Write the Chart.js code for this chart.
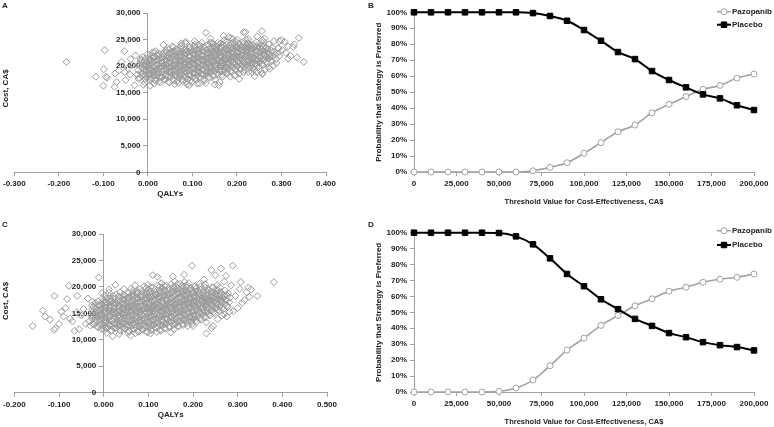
<!DOCTYPE html>
<html><head><meta charset="utf-8">
<script src="https://cdn.jsdelivr.net/npm/chart.js@4.4.1/dist/chart.umd.min.js"></script>
<style>
html,body{margin:0;padding:0;background:#fff;width:774px;height:427px;overflow:hidden}
canvas{position:absolute}
</style></head><body>
<canvas id="cA" width="360" height="212" style="left:0;top:0"></canvas>
<canvas id="cB" width="414" height="212" style="left:360px;top:0"></canvas>
<canvas id="cC" width="360" height="215" style="left:0;top:212px"></canvas>
<canvas id="cD" width="414" height="215" style="left:360px;top:212px"></canvas>
<script>
// ---------- DATA ----------
// Panel A: incremental QALYs vs incremental cost (CA$)
const scatterA = [
[-0.022,19200],[-0.018,20400],[-0.024,18400],[-0.016,21300],[-0.02,17800],[-0.013,19800],
[-0.011,18600],[-0.008,20900],[-0.012,21700],[-0.006,17600],[-0.009,19500],[-0.004,20200],[-0.007,16900],
[0.002,18100],[0.001,19900],[0.004,21400],[-0.001,22200],[0.003,17300],[0.005,20600],[0.000,18900],
[0.008,17700],[0.011,18700],[0.012,19600],[0.009,20800],[0.013,21800],[0.010,22600],[0.014,16700],[0.007,19200],
[0.018,17200],[0.021,18300],[0.019,19300],[0.022,20200],[0.02,21100],[0.024,22000],[0.017,22800],[0.023,18800],
[0.028,16900],[0.031,17800],[0.033,18900],[0.029,19800],[0.032,20500],[0.030,21500],[0.034,22300],[0.027,20000],[0.035,24000],
[0.038,17400],[0.041,18300],[0.043,19400],[0.039,20300],[0.042,21000],[0.044,21900],[0.040,22900],[0.045,19000],
[0.048,16900],[0.051,17900],[0.053,18700],[0.049,19700],[0.052,20600],[0.050,21400],[0.054,22300],[0.047,23100],[0.055,20100],
[0.058,17300],[0.061,18200],[0.063,19100],[0.059,20200],[0.062,21000],[0.060,21800],[0.064,22700],[0.057,23500],[0.065,19600],
[0.068,16800],[0.071,17700],[0.073,18600],[0.069,19500],[0.072,20400],[0.070,21200],[0.074,22100],[0.067,22900],[0.075,23900],[0.071,20000],
[0.078,17200],[0.081,18100],[0.083,19000],[0.079,19900],[0.082,20800],[0.080,21600],[0.084,22500],[0.077,23300],[0.085,24300],[0.080,20300],
[0.088,16500],[0.091,17600],[0.093,18500],[0.089,19400],[0.092,20300],[0.090,21100],[0.094,22000],[0.087,22800],[0.095,23700],[0.091,20700],
[0.098,17000],[0.101,17900],[0.103,18800],[0.099,19700],[0.102,20600],[0.100,21400],[0.104,22300],[0.097,23100],[0.105,24000],[0.101,21000],
[0.108,17400],[0.111,18300],[0.113,19200],[0.109,20100],[0.112,21000],[0.110,21800],[0.114,22700],[0.107,23500],[0.115,19600],[0.111,16700],
[0.118,17700],[0.121,18600],[0.123,19500],[0.119,20400],[0.122,21300],[0.120,22100],[0.124,23000],[0.117,23800],[0.125,20800],[0.121,24400],
[0.128,17300],[0.131,18200],[0.133,19100],[0.129,20000],[0.132,20900],[0.130,21700],[0.134,22600],[0.127,23400],[0.135,24100],[0.131,21300],
[0.138,17800],[0.141,18700],[0.143,19600],[0.139,20500],[0.142,21400],[0.140,22200],[0.144,23100],[0.137,23900],[0.145,20900],[0.141,24500],
[0.148,18100],[0.151,19000],[0.153,19900],[0.149,20800],[0.152,21700],[0.150,22500],[0.154,23400],[0.147,24200],[0.155,21200],[0.151,17400],
[0.158,18400],[0.161,19300],[0.163,20200],[0.159,21100],[0.162,22000],[0.160,22800],[0.164,23700],[0.157,24400],[0.165,20600],[0.161,17000],
[0.168,18000],[0.171,18900],[0.173,19800],[0.169,20700],[0.172,21600],[0.170,22400],[0.174,23300],[0.167,24100],[0.175,21000],[0.171,24800],
[0.178,18600],[0.181,19500],[0.183,20400],[0.179,21300],[0.182,22200],[0.180,23000],[0.184,23900],[0.177,24600],[0.185,20900],[0.186,25300],
[0.188,18900],[0.191,19800],[0.193,20700],[0.189,21600],[0.192,22500],[0.190,23300],[0.194,24200],[0.187,21100],[0.195,18200],[0.191,25100],
[0.198,19100],[0.201,20000],[0.203,20900],[0.199,21800],[0.202,22700],[0.200,23500],[0.204,24300],[0.197,21400],[0.205,18600],[0.201,25000],
[0.208,19400],[0.211,20300],[0.213,21200],[0.209,22100],[0.212,23000],[0.210,23800],[0.214,24600],[0.207,21700],[0.215,18800],
[0.218,19200],[0.221,20100],[0.223,21000],[0.219,21900],[0.222,22800],[0.220,23600],[0.224,24400],[0.217,20600],[0.225,25100],
[0.228,19600],[0.231,20500],[0.233,21400],[0.229,22300],[0.232,23200],[0.230,24000],[0.234,18900],[0.227,22700],
[0.238,19300],[0.241,20200],[0.243,21100],[0.239,22000],[0.242,22900],[0.240,23700],[0.244,24500],[0.237,21500],
[0.248,19800],[0.251,20700],[0.253,21600],[0.249,22500],[0.252,23400],[0.250,24200],[0.254,19000],[0.247,21200],
[0.258,20200],[0.261,21100],[0.263,22000],[0.259,22900],[0.262,23800],[0.260,24600],[0.264,19400],[0.257,18500],
[0.268,20500],[0.271,21400],[0.273,22300],[0.269,23200],[0.272,24100],[0.270,19800],[0.274,21800],
[0.278,20900],[0.281,21800],[0.283,22700],[0.279,23500],[0.282,20100],[0.285,22200],
[0.288,21300],[0.291,22400],[0.293,23300],[0.289,20600],[0.295,21900],
[-0.015,18800],[-0.014,19700],[-0.017,20800],[-0.013,18100],
[-0.005,18200],[-0.003,19100],[-0.006,20000],[-0.002,20700],[-0.004,21500],
[0.006,17600],[0.005,18500],[0.007,19400],[0.004,20300],[0.006,21200],[0.008,22000],
[0.015,17400],[0.016,18300],[0.014,19100],[0.017,20000],[0.015,20900],[0.016,21800],[0.014,22600],
[0.025,17100],[0.026,18000],[0.024,18900],[0.027,19700],[0.025,20600],[0.026,21400],[0.024,22400],
[0.036,17500],[0.035,18400],[0.037,19200],[0.034,20100],[0.036,21000],[0.035,21900],[0.037,22700],
[0.046,17100],[0.045,18000],[0.047,18900],[0.044,19800],[0.046,20600],[0.045,21500],[0.047,22400],[0.044,23300],
[0.056,17500],[0.055,18400],[0.057,19300],[0.054,20200],[0.056,21100],[0.055,21900],[0.057,22800],
[0.066,17200],[0.065,18100],[0.067,18900],[0.064,19800],[0.066,20700],[0.065,21600],[0.067,22400],[0.064,23200],
[0.076,17500],[0.075,18300],[0.077,19200],[0.074,20100],[0.076,21000],[0.075,21800],[0.077,22700],[0.074,23600],
[0.086,17000],[0.085,17900],[0.087,18800],[0.084,19700],[0.086,20500],[0.085,21400],[0.087,22300],[0.084,23100],
[0.096,17300],[0.095,18200],[0.097,19100],[0.094,20000],[0.096,20900],[0.095,21700],[0.097,22600],[0.094,23400],
[0.106,17700],[0.105,18600],[0.107,19500],[0.104,20400],[0.106,21200],[0.105,22100],[0.107,22900],[0.104,23700],
[0.116,18000],[0.115,18900],[0.117,19800],[0.114,20600],[0.116,21500],[0.115,22400],[0.117,23200],[0.114,24000],
[0.126,17500],[0.125,18400],[0.127,19300],[0.124,20200],[0.126,21100],[0.125,21900],[0.127,22800],[0.124,23600],
[0.136,18000],[0.135,18900],[0.137,19800],[0.134,20700],[0.136,21600],[0.135,22400],[0.137,23300],
[0.146,18300],[0.145,19200],[0.147,20100],[0.144,21000],[0.146,21900],[0.145,22700],[0.147,23600],[0.144,24300],
[0.156,18700],[0.155,19500],[0.157,20400],[0.154,21300],[0.156,22200],[0.155,23000],[0.157,23900],
[0.166,18300],[0.165,19100],[0.167,20000],[0.164,20900],[0.166,21800],[0.165,22600],[0.167,23500],[0.164,24300],
[0.176,18800],[0.175,19700],[0.177,20600],[0.174,21500],[0.176,22300],[0.175,23200],[0.177,24000],
[0.186,19100],[0.185,20000],[0.187,20900],[0.184,21700],[0.186,22600],[0.185,23500],[0.187,24300],
[0.196,19400],[0.195,20300],[0.197,21200],[0.194,22000],[0.196,22900],[0.195,23800],[0.197,24600],
[0.206,19600],[0.205,20500],[0.207,21400],[0.204,22300],[0.206,23200],[0.205,24000],
[0.216,19800],[0.215,20700],[0.217,21600],[0.214,22500],[0.216,23300],[0.215,24200],
[0.226,19900],[0.225,20800],[0.227,21700],[0.224,22600],[0.226,23400],[0.225,24200],
[0.236,19700],[0.235,20600],[0.237,21500],[0.234,22400],[0.236,23300],[0.235,24100],
[0.246,20100],[0.245,21000],[0.247,21900],[0.244,22800],[0.246,23600],
[0.256,20400],[0.255,21300],[0.257,22200],[0.254,23100],[0.256,23900],
[0.266,20800],[0.265,21700],[0.267,22600],[0.264,23400],
[0.276,21100],[0.275,22000],[0.277,22900],
[-0.183,20800],[-0.117,18000],[-0.100,16300],[-0.097,23000],[-0.099,19400],[-0.094,18000],[-0.092,17800],[-0.075,16100],
[-0.070,17000],[-0.074,18600],[-0.053,22800],[-0.052,18900],[-0.050,17400],[-0.059,20800],[-0.039,21300],[-0.040,18400],
[-0.034,20200],[-0.030,16400],[-0.021,17600],[-0.015,21000],[-0.045,19600],[-0.028,22000],[-0.065,19200],
[0.130,26300],[0.215,26400],[0.219,26400],[0.256,26600],[0.339,25300],[0.326,23600],[0.329,24100],[0.350,20800],
[0.315,21400],[0.320,21900],[0.300,24900],[0.307,24600],[0.293,23400],[0.257,18600],[0.274,19500],[0.244,18900],
[0.226,18900],[0.196,18300],[0.185,18000],[0.159,16400],[0.150,16500],[0.116,16700],[0.093,16400],[0.141,25200],
[0.181,25500],[0.220,25000],[0.257,24900],[0.075,24300],[0.085,24600],[0.310,22500],[0.302,23000],[0.295,24700],
[0.055,23700],[0.105,24700],[0.170,25700],[0.245,25600],[0.262,25200],[0.283,24700],[0.240,18100],[0.205,17600],
[0.130,16800],[0.060,16600],[0.005,16300],[-0.010,16500],[0.335,21600],[0.315,23700]
];
// Panel A dense core, read column by column: [QALY, cost, cost, ...]
const coreA = [
[-0.008,18400,19300,20100],[0.002,18600,19500,20400,21100],[0.012,18200,19000,19900,20700,21500],
[0.022,18500,19400,20300,21200,21900],[0.032,18100,19000,19900,20800,21700],[0.042,18400,19300,20100,21000,21800,22600],
[0.052,18100,19000,19900,20800,21700,22500],[0.062,18500,19300,20200,21100,22000,22800],[0.072,18200,19100,20000,20900,21800,22600],
[0.082,18500,19400,20300,21200,22100,22900],[0.092,18300,19200,20100,21000,21900,22700],[0.102,18600,19500,20400,21300,22200,23000],
[0.112,18800,19700,20600,21500,22300,23100],[0.122,18400,19300,20200,21100,22000,22900],[0.132,18700,19600,20500,21400,22300,23100],
[0.142,19000,19900,20800,21700,22600,23400],[0.152,19300,20200,21100,22000,22900,23700],[0.162,19000,19900,20800,21700,22500,23300],
[0.172,19300,20200,21100,22000,22900,23700],[0.182,19600,20500,21400,22300,23200],[0.192,19800,20700,21600,22500,23400],
[0.202,20000,20900,21800,22700,23600],[0.212,20200,21100,22000,22900,23700],[0.222,20300,21200,22100,23000,23900],
[0.232,20100,21000,21900,22800,23600],[0.242,20500,21400,22300,23200],[0.252,20900,21800,22700,23600],
[0.262,21300,22200,23100],[0.272,21500,22400]
];
// Panel C
const scatterC = [
[-0.032,13500],[-0.028,14600],[-0.025,15700],[-0.030,12700],[-0.026,16500],
[-0.022,12900],[-0.018,13900],[-0.021,15000],[-0.017,16000],[-0.019,17000],[-0.023,14400],
[-0.012,12300],[-0.008,13300],[-0.011,14300],[-0.007,15300],[-0.009,16300],[-0.013,17300],[-0.006,14800],
[0.002,11800],[0.001,12800],[0.004,13800],[-0.001,14700],[0.003,15600],[0.005,16500],[0.000,17400],[0.002,18400],
[0.008,12200],[0.011,13200],[0.012,14200],[0.009,15100],[0.013,16000],[0.010,16900],[0.014,17800],[0.007,11300],[0.012,18900],
[0.018,11800],[0.021,12700],[0.019,13600],[0.022,14600],[0.02,15500],[0.024,16400],[0.017,17300],[0.023,18200],[0.019,15000],
[0.028,12300],[0.031,13200],[0.033,14100],[0.029,15000],[0.032,15900],[0.030,16800],[0.034,17700],[0.027,18600],[0.035,11100],[0.031,14500],
[0.038,11700],[0.041,12600],[0.043,13500],[0.039,14400],[0.042,15300],[0.044,16200],[0.040,17100],[0.045,18000],[0.037,19000],[0.041,15800],
[0.048,12100],[0.051,13000],[0.053,13900],[0.049,14800],[0.052,15700],[0.050,16600],[0.054,17500],[0.047,18400],[0.055,11300],[0.051,15200],
[0.058,11600],[0.061,12500],[0.063,13400],[0.059,14300],[0.062,15200],[0.060,16100],[0.064,17000],[0.057,17900],[0.065,18800],[0.061,19600],[0.059,15600],
[0.068,12000],[0.071,12900],[0.073,13800],[0.069,14700],[0.072,15600],[0.070,16500],[0.074,17400],[0.067,18300],[0.075,19200],[0.071,11200],[0.069,16100],
[0.078,11500],[0.081,12400],[0.083,13300],[0.079,14200],[0.082,15100],[0.080,16000],[0.084,16900],[0.077,17800],[0.085,18700],[0.081,19600],[0.079,15500],
[0.088,11900],[0.091,12800],[0.093,13700],[0.089,14600],[0.092,15500],[0.090,16400],[0.094,17300],[0.087,18200],[0.095,19100],[0.091,20100],[0.089,16000],
[0.098,11400],[0.101,12300],[0.103,13200],[0.099,14100],[0.102,15000],[0.100,15900],[0.104,16800],[0.097,17700],[0.105,18600],[0.101,19500],[0.099,20400],[0.103,15400],
[0.108,11800],[0.111,12700],[0.113,13600],[0.109,14500],[0.112,15400],[0.110,16300],[0.114,17200],[0.107,18100],[0.115,19000],[0.111,19900],[0.109,15900],
[0.118,12200],[0.121,13100],[0.123,14000],[0.119,14900],[0.122,15800],[0.120,16700],[0.124,17600],[0.117,18500],[0.125,19400],[0.121,20300],[0.119,11500],[0.123,16300],
[0.128,11700],[0.131,12600],[0.133,13500],[0.129,14400],[0.132,15300],[0.130,16200],[0.134,17100],[0.127,18000],[0.135,18900],[0.131,19800],[0.129,20700],[0.133,15800],
[0.138,12100],[0.141,13000],[0.143,13900],[0.139,14800],[0.142,15700],[0.140,16600],[0.144,17500],[0.137,18400],[0.145,19300],[0.141,20200],[0.139,16100],
[0.148,12400],[0.151,13300],[0.153,14200],[0.149,15100],[0.152,16000],[0.150,16900],[0.154,17800],[0.147,18700],[0.155,19600],[0.151,20500],[0.149,16500],
[0.158,12000],[0.161,12900],[0.163,13800],[0.159,14700],[0.162,15600],[0.160,16500],[0.164,17400],[0.157,18300],[0.165,19200],[0.161,20100],[0.159,21000],[0.163,16900],
[0.168,12500],[0.171,13400],[0.173,14300],[0.169,15200],[0.172,16100],[0.170,17000],[0.174,17900],[0.167,18800],[0.175,19700],[0.171,20600],[0.169,16600],
[0.178,12800],[0.181,13700],[0.183,14600],[0.179,15500],[0.182,16400],[0.180,17300],[0.184,18200],[0.177,19100],[0.185,20000],[0.181,20900],[0.179,17700],
[0.188,12600],[0.191,13500],[0.193,14400],[0.189,15300],[0.192,16200],[0.190,17100],[0.194,18000],[0.187,18900],[0.195,19800],[0.191,20700],[0.189,16800],
[0.198,13000],[0.201,13900],[0.203,14800],[0.199,15700],[0.202,16600],[0.200,17500],[0.204,18400],[0.197,19300],[0.205,20200],[0.201,17000],
[0.208,13400],[0.211,14300],[0.213,15200],[0.209,16100],[0.212,17000],[0.210,17900],[0.214,18800],[0.207,19700],[0.215,20600],[0.211,16600],
[0.218,13800],[0.221,14700],[0.223,15600],[0.219,16500],[0.222,17400],[0.220,18300],[0.224,19200],[0.217,20100],[0.225,17800],
[0.228,14200],[0.231,15100],[0.233,16000],[0.229,16900],[0.232,17800],[0.230,18700],[0.234,19600],[0.227,20500],[0.235,17300],
[0.238,14600],[0.241,15500],[0.243,16400],[0.239,17300],[0.242,18200],[0.240,19100],[0.244,20000],[0.237,17700],
[0.248,15000],[0.251,15900],[0.253,16800],[0.249,17700],[0.252,18600],[0.250,19500],[0.254,20300],[0.247,18100],
[0.258,15400],[0.261,16300],[0.263,17200],[0.259,18100],[0.262,19000],[0.260,19900],[0.264,17600],
[0.268,15800],[0.271,16700],[0.273,17600],[0.269,18500],[0.272,19300],[0.270,14800],
[0.278,16200],[0.281,17100],[0.283,18000],[0.279,18800],[0.282,15300],
[-0.024,13000],[-0.026,14000],[-0.025,15200],[-0.023,16200],
[-0.015,12600],[-0.014,13600],[-0.016,14600],[-0.015,15500],[-0.014,16500],
[-0.004,12000],[-0.005,13000],[-0.003,14000],[-0.006,15000],[-0.004,15900],[-0.005,16900],[-0.003,17800],
[0.006,12300],[0.005,13300],[0.007,14200],[0.004,15200],[0.006,16100],[0.005,17000],[0.007,17900],
[0.016,11700],[0.015,12700],[0.017,13700],[0.014,14600],[0.016,15500],[0.015,16400],[0.017,17400],[0.014,18300],
[0.026,12200],[0.025,13100],[0.027,14100],[0.024,15000],[0.026,15900],[0.025,16900],[0.027,17800],
[0.036,11800],[0.035,12700],[0.037,13600],[0.034,14600],[0.036,15500],[0.035,16400],[0.037,17300],[0.034,18200],
[0.046,12200],[0.045,13100],[0.047,14000],[0.044,14900],[0.046,15800],[0.045,16700],[0.047,17600],[0.044,18500],
[0.056,11700],[0.055,12600],[0.057,13500],[0.054,14400],[0.056,15300],[0.055,16200],[0.057,17100],[0.054,18000],[0.056,18900],
[0.066,12100],[0.065,13000],[0.067,13900],[0.064,14800],[0.066,15700],[0.065,16600],[0.067,17500],[0.064,18400],[0.066,19300],
[0.076,11700],[0.075,12600],[0.077,13500],[0.074,14400],[0.076,15300],[0.075,16200],[0.077,17100],[0.074,18000],[0.076,18900],
[0.086,12000],[0.085,12900],[0.087,13800],[0.084,14700],[0.086,15600],[0.085,16500],[0.087,17400],[0.084,18300],[0.086,19200],
[0.096,11600],[0.095,12500],[0.097,13400],[0.094,14300],[0.096,15200],[0.095,16100],[0.097,17000],[0.094,17900],[0.096,18800],[0.095,19700],
[0.106,11900],[0.105,12800],[0.107,13700],[0.104,14600],[0.106,15500],[0.105,16400],[0.107,17300],[0.104,18200],[0.106,19100],[0.105,20000],
[0.116,12300],[0.115,13200],[0.117,14100],[0.114,15000],[0.116,15900],[0.115,16800],[0.117,17700],[0.114,18600],[0.116,19500],
[0.126,11900],[0.125,12800],[0.127,13700],[0.124,14600],[0.126,15500],[0.125,16400],[0.127,17300],[0.124,18200],[0.126,19100],[0.125,20000],
[0.136,12200],[0.135,13100],[0.137,14000],[0.134,14900],[0.136,15800],[0.135,16700],[0.137,17600],[0.134,18500],[0.136,19400],[0.135,20300],
[0.146,12500],[0.145,13400],[0.147,14300],[0.144,15200],[0.146,16100],[0.145,17000],[0.147,17900],[0.144,18800],[0.146,19700],
[0.156,12800],[0.155,13700],[0.157,14600],[0.154,15500],[0.156,16400],[0.155,17300],[0.157,18200],[0.154,19100],[0.156,20000],
[0.166,12600],[0.165,13500],[0.167,14400],[0.164,15300],[0.166,16200],[0.165,17100],[0.167,18000],[0.164,18900],[0.166,19800],[0.165,20500],
[0.176,13000],[0.175,13900],[0.177,14800],[0.174,15700],[0.176,16600],[0.175,17500],[0.177,18400],[0.174,19300],[0.176,20200],
[0.186,13200],[0.185,14100],[0.187,15000],[0.184,15900],[0.186,16800],[0.185,17700],[0.187,18600],[0.184,19500],[0.186,20400],
[0.196,13400],[0.195,14300],[0.197,15200],[0.194,16100],[0.196,17000],[0.195,17900],[0.197,18800],[0.194,19700],
[0.206,13700],[0.205,14600],[0.207,15500],[0.204,16400],[0.206,17300],[0.205,18200],[0.207,19100],[0.204,20000],
[0.216,14100],[0.215,15000],[0.217,15900],[0.214,16800],[0.216,17700],[0.215,18600],[0.217,19500],
[0.226,14500],[0.225,15400],[0.227,16300],[0.224,17200],[0.226,18100],[0.225,19000],[0.227,19900],
[0.236,14900],[0.235,15800],[0.237,16700],[0.234,17600],[0.236,18500],[0.235,19400],
[0.246,15300],[0.245,16200],[0.247,17100],[0.244,18000],[0.246,18900],[0.245,19800],
[0.256,15700],[0.255,16600],[0.257,17500],[0.254,18400],[0.256,19300],
[0.266,16100],[0.265,17000],[0.267,17900],[0.264,18800],
[0.276,16500],[0.275,17400],[0.277,18300],
[-0.159,12600],[-0.136,15500],[-0.131,14400],[-0.110,18300],[-0.111,11900],[-0.082,17700],[-0.078,20200],[-0.059,18300],
[-0.011,21800],[-0.085,16000],[-0.090,14400],[-0.100,13000],[-0.108,12200],[-0.050,14600],[-0.026,17200],[-0.004,18800],
[0.012,19500],[0.026,20400],[-0.070,13500],[-0.065,11700],[-0.055,12000],[-0.045,15800],[-0.040,13000],[-0.035,17800],
[-0.060,15200],[-0.075,14000],[-0.120,13800],[-0.095,15300],
[0.381,20900],[0.289,24000],[0.263,23500],[0.241,23200],[0.198,24000],[0.274,22100],[0.307,20900],[0.324,19900],
[0.344,18300],[0.326,18100],[0.320,19000],[0.276,14400],[0.241,12200],[0.230,11200],[0.200,12600],[0.300,16000],
[0.310,17000],[0.315,17500],[0.330,19500],[0.290,15400],[0.295,18300],[0.305,19600],[0.285,20300],[0.270,21000],
[0.250,22200],[0.225,21400],[0.180,22300],[0.155,22000],[0.120,21900],[0.110,22200],[0.070,20300],[0.045,19600],
[0.230,13300],[0.255,13900],[0.265,14600],[0.150,11400],[0.105,11200],[0.060,10800],[0.020,10700],[0.245,12600]
];
// Panel C dense core, column by column: [QALY, cost, cost, ...]
const coreC = [
[-0.018,13400,14300,15300],[-0.008,12800,13700,14600,15600,16500],[0.002,12400,13300,14300,15200,16100,17000],
[0.012,12700,13600,14500,15500,16400,17300],[0.022,12300,13200,14100,15100,16000,16900,17800],[0.032,12600,13500,14400,15300,16300,17200],
[0.042,12300,13100,14100,15000,15900,16800,17700],[0.052,12500,13400,14300,15200,16100,17000,17900],[0.062,12800,13700,14600,15500,16400,17300,18200],
[0.072,12400,13300,14200,15100,16000,16900,17800,18700],[0.082,12700,13600,14500,15400,16300,17200,18100],[0.092,12300,13200,14100,15000,15900,16800,17700,18600],
[0.102,12600,13500,14400,15300,16200,17100,18000,18900],[0.112,12900,13800,14700,15600,16500,17400,18300],[0.122,12500,13400,14300,15200,16100,17000,17900,18800],
[0.132,12800,13700,14600,15500,16400,17300,18200,19100],[0.142,13100,14000,14900,15800,16700,17600,18500],[0.152,13400,14300,15200,16100,17000,17900,18800],
[0.162,13200,14100,15000,15900,16800,17700,18600,19500],[0.172,13600,14500,15400,16300,17200,18100,19000],[0.182,13900,14800,15700,16600,17500,18400,19300],
[0.192,14100,15000,15900,16800,17700,18600,19400],[0.202,14400,15300,16200,17100,18000,18900],[0.212,14700,15600,16500,17400,18300,19200],
[0.222,15100,16000,16900,17800,18700],[0.232,15500,16400,17300,18200,19000],[0.242,15800,16700,17600,18500],
[0.252,16200,17100,18000,18800],[0.262,16600,17500,18400]
];
// Panels B and D: cost-effectiveness acceptability curves
const thresholds = [0,10000,20000,30000,40000,50000,60000,70000,80000,90000,100000,110000,120000,130000,140000,150000,160000,170000,180000,190000,200000];
const pazopanibB = [0,0,0,0,0,0,0,0.8,2.9,5.8,11.7,18.4,25.2,29.4,37.1,42.4,47.2,51.8,54.2,58.8,61.4];
const placeboB   = [100,100,100,100,100,100,100,99.5,97.7,94.7,88.9,82.2,75.1,70.7,63.2,57.6,53,48.6,46.1,41.8,38.8];
const pazopanibD = [0,0,0,0,0,0.4,2.5,7.5,16.5,26.3,33.8,41.8,48,54.1,58.5,63.3,65.8,68.9,70.8,72,74.1];
const placeboD   = [100,100,100,100,100,99.8,97.7,92.7,83.9,74.1,66.4,58.2,52,45.9,41.5,37,34.4,31.3,29.4,28.2,26.1];
const qalyRange = {A: [-0.3, 0.4], C: [-0.2, 0.5]};
const seriesNames = ['Pazopanib', 'Placebo'];

// ---------- STYLE ----------
const FONT = "'Liberation Sans', Arial, Helvetica, sans-serif";
const TXT = '#222';
const AX = '#a0a0a0';
Chart.defaults.font.family = FONT;
Chart.defaults.font.size = 8;
Chart.defaults.font.weight = 'bold';
Chart.defaults.color = TXT;

function drawMark(ctx, style, x, y, r) {
  ctx.beginPath();
  if (style === 'circle') ctx.arc(x, y, r, 0, Math.PI * 2);
  else { const s = Math.SQRT1_2 * r; ctx.rect(x - s, y - s, 2 * s, 2 * s); }
  ctx.fill(); ctx.stroke();
}
const extras = {
  id: 'extras',
  afterDraw(chart, args, o) {
    const ctx = chart.ctx;
    ctx.save();
    ctx.fillStyle = TXT;
    ctx.font = 'bold 8px ' + FONT;
    ctx.textBaseline = 'middle';
    ctx.textAlign = 'left';
    if (o.letter) ctx.fillText(o.letter, o.lx, o.ly);
    if (o.ytitle) {
      ctx.save();
      ctx.translate(o.ytitle.x, o.ytitle.y);
      ctx.rotate(-Math.PI / 2);
      ctx.textAlign = 'center';
      ctx.fillText(o.ytitle.text, 0, 0);
      ctx.restore();
    }
    if (o.legend) {
      const top = chart.chartArea.top;
      chart.data.datasets.forEach((ds, i) => {
        const y = top + o.legend.dy[i];
        ctx.strokeStyle = ds.borderColor;
        ctx.lineWidth = ds.borderWidth;
        ctx.beginPath();
        ctx.moveTo(o.legend.x0, y); ctx.lineTo(o.legend.x1, y); ctx.stroke();
        const cx = (o.legend.x0 + o.legend.x1) / 2;
        ctx.fillStyle = ds.pointBackgroundColor; ctx.strokeStyle = ds.pointBorderColor; ctx.lineWidth = ds.pointBorderWidth;
        drawMark(ctx, ds.pointStyle, cx, y, ds.pointRadius);
        ctx.fillStyle = TXT;
        ctx.fillText(ds.label, o.legend.tx, y);
      });
    }
    ctx.restore();
  }
};

function axisCommon() {
  return {
    grid: {display: true, drawOnChartArea: false, drawTicks: true, tickLength: 4, color: AX, lineWidth: 1},
    border: {display: true, color: AX, width: 1}
  };
}
const fmt3 = v => { const r = Math.round(v * 1000) / 1000; return (Math.abs(r) < 1e-9 ? 0 : r).toFixed(3); };
const expandCore = rows => rows.flatMap(r => r.slice(1).map(c => [r[0], c]));

function scatterChart(id, pts, range, cfg) {
  return new Chart(document.getElementById(id), {
    type: 'scatter',
    data: {datasets: [{
      data: pts.map(p => ({x: p[0], y: p[1]})),
      pointStyle: 'rectRot', pointRadius: 3.5, pointHoverRadius: 3.5,
      borderColor: '#9b9b9b', backgroundColor: 'rgba(0,0,0,0)', borderWidth: 1, clip: false
    }]},
    options: {
      responsive: false, animation: false, events: [],
      layout: {padding: cfg.pad},
      plugins: {legend: {display: false}, tooltip: {enabled: false}, extras: cfg.extras},
      scales: {
        x: Object.assign(axisCommon(), {
          type: 'linear', min: range[0], max: range[1], position: 'bottom',
          afterFit: s => { s.height = cfg.xh; },
          ticks: {stepSize: 0.1, padding: 3, maxRotation: 0, autoSkip: false, color: TXT, callback: fmt3},
          title: {display: true, text: 'QALYs', color: TXT, padding: {top: 0, bottom: 0}, font: {size: 8, weight: 'bold'}}
        }),
        y: Object.assign(axisCommon(), {
          type: 'linear', min: 0, max: 30000, position: {x: 0},
          ticks: {stepSize: 5000, display: false}
        }),
        yLabels: {
          type: 'linear', axis: 'y', min: 0, max: 30000, position: {x: cfg.labelAt},
          grid: {display: false}, border: {display: false},
          ticks: {stepSize: 5000, padding: 0, color: TXT}
        }
      }
    },
    plugins: [extras]
  });
}

function lineChart(id, paz, pla, cfg) {
  const mk = arr => thresholds.map((t, i) => ({x: t, y: arr[i]}));
  return new Chart(document.getElementById(id), {
    type: 'line',
    data: {datasets: [
      {label: seriesNames[0], data: mk(paz), borderColor: '#a3a3a3', borderWidth: 1.6,
       pointStyle: 'circle', pointRadius: 3, pointBackgroundColor: '#fff', pointBorderColor: '#a3a3a3', pointBorderWidth: 1,
       cubicInterpolationMode: 'monotone', clip: false, order: 1},
      {label: seriesNames[1], data: mk(pla), borderColor: '#000', borderWidth: 2,
       pointStyle: 'rect', pointRadius: 3.9, pointBackgroundColor: '#000', pointBorderColor: '#000', pointBorderWidth: 1,
       cubicInterpolationMode: 'monotone', clip: false, order: 0}
    ]},
    options: {
      responsive: false, animation: false, events: [],
      layout: {padding: cfg.pad},
      plugins: {legend: {display: false}, tooltip: {enabled: false}, extras: cfg.extras},
      scales: {
        x: Object.assign(axisCommon(), {
          type: 'linear', min: 0, max: 200000, position: 'bottom',
          afterFit: s => { s.height = cfg.xh; },
          ticks: {stepSize: 25000, padding: 3, maxRotation: 0, autoSkip: false, color: TXT},
          title: {display: true, text: 'Threshold Value for Cost-Effectiveness, CA$', color: TXT, padding: {top: 0, bottom: 0}, font: {size: 7.5, weight: 'bold'}}
        }),
        y: Object.assign(axisCommon(), {
          type: 'linear', min: 0, max: 100, position: 'left',
          afterFit: s => { s.width = 40.3; },
          ticks: {stepSize: 10, padding: 3, color: TXT, callback: v => v + '%'},
          title: {display: true, text: 'Probability that Strategy is Preferred', color: TXT, padding: {top: 0, bottom: 0}, font: {size: 8, weight: 'bold'}}
        })
      }
    },
    plugins: [extras]
  });
}

scatterChart('cA', scatterA.concat(expandCore(coreA)), qalyRange.A, {
  pad: {left: 11, right: 34, top: 13, bottom: 13.7}, xh: 26, labelAt: -0.0165,
  extras: {letter: 'A', lx: 2, ly: 6, ytitle: {text: 'Cost, CA$', x: 5.5, y: 88.5}}
});
lineChart('cB', pazopanibB, placeboB, {
  pad: {left: 13.7, right: 20, top: 12.3, bottom: 5.5}, xh: 34.5,
  extras: {letter: 'B', lx: 8, ly: 6, legend: {x0: 357, x1: 371, tx: 372, dy: [-0.6, 12.4]}}
});
scatterChart('cC', scatterC.concat(expandCore(coreC)), qalyRange.C, {
  pad: {left: 11, right: 33, top: 22, bottom: 7.2}, xh: 27.1, labelAt: -0.0165,
  extras: {letter: 'C', lx: 2, ly: 13, ytitle: {text: 'Cost, CA$', x: 5.5, y: 89}}
});
lineChart('cD', pazopanibD, placeboD, {
  pad: {left: 13.7, right: 20, top: 20.7, bottom: 0.5}, xh: 34.5,
  extras: {letter: 'D', lx: 8, ly: 13, legend: {x0: 357, x1: 371, tx: 372, dy: [-2, 12.3]}}
});
</script>
</body></html>
